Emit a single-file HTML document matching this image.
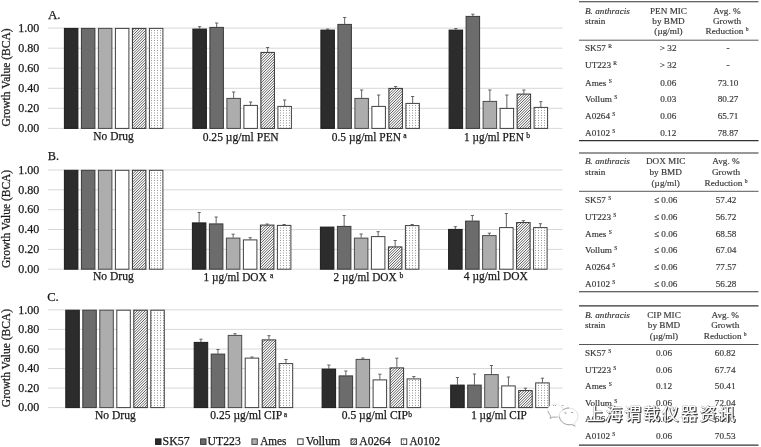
<!DOCTYPE html>
<html><head><meta charset="utf-8"><title>Figure</title>
<style>
html,body{margin:0;padding:0;background:#fff;}
body{width:761px;height:447px;overflow:hidden;}
svg{display:block;will-change:transform;}
svg text{font-family:"Liberation Serif",serif;}
.c text{stroke:#1a1a1a;stroke-width:0.25px;}
.t text{stroke:#3a3a3a;stroke-width:0.18px;}
</style></head><body>
<svg width="761" height="447" viewBox="0 0 761 447">
<defs>
<pattern id="hatch" width="8" height="8" patternUnits="userSpaceOnUse">
<rect width="8" height="8" fill="#fff"/><path d="M-9.000 9L1.000 -1M-6.333 9L3.667 -1M-3.667 9L6.333 -1M-1.000 9L9.000 -1M1.667 9L11.667 -1M4.333 9L14.333 -1M7.000 9L17.000 -1" stroke="#333" stroke-width="0.8"/></pattern>
<pattern id="dots" width="3" height="5" patternUnits="userSpaceOnUse">
<rect width="3" height="5" fill="#fff"/><rect x="1" y="0" width="1" height="1" fill="#9a9a9a"/><rect x="1" y="2.500" width="1" height="1" fill="#9a9a9a"/></pattern>
</defs>
<rect width="761" height="447" fill="#fff"/>
<g class="c">
<line x1="48" x2="562.5" y1="128.4" y2="128.4" stroke="#d8d8d8" stroke-width="1"/>
<text x="39.2" y="132.20" font-size="12" text-anchor="end" fill="#1a1a1a">0.00</text>
<line x1="48" x2="562.5" y1="108.3" y2="108.3" stroke="#d8d8d8" stroke-width="1"/>
<text x="39.2" y="112.14" font-size="12" text-anchor="end" fill="#1a1a1a">0.20</text>
<line x1="48" x2="562.5" y1="88.3" y2="88.3" stroke="#d8d8d8" stroke-width="1"/>
<text x="39.2" y="92.08" font-size="12" text-anchor="end" fill="#1a1a1a">0.40</text>
<line x1="48" x2="562.5" y1="68.2" y2="68.2" stroke="#d8d8d8" stroke-width="1"/>
<text x="39.2" y="72.02" font-size="12" text-anchor="end" fill="#1a1a1a">0.60</text>
<line x1="48" x2="562.5" y1="48.2" y2="48.2" stroke="#d8d8d8" stroke-width="1"/>
<text x="39.2" y="51.96" font-size="12" text-anchor="end" fill="#1a1a1a">0.80</text>
<line x1="48" x2="562.5" y1="28.1" y2="28.1" stroke="#d8d8d8" stroke-width="1"/>
<text x="39.2" y="31.90" font-size="12" text-anchor="end" fill="#1a1a1a">1.00</text>
<text x="47.9" y="19" font-size="13.5" textLength="12.7" lengthAdjust="spacingAndGlyphs" fill="#1a1a1a">A.</text>
<text transform="translate(10.4,77.5) rotate(-90)" font-size="11.5" text-anchor="middle" fill="#1a1a1a">Growth Value (BCA)</text>
<rect x="64.40" y="28.40" width="13.50" height="100.00" fill="#2c2c2c" stroke="#1c1c1c" stroke-width="1"/>
<rect x="81.40" y="28.40" width="13.50" height="100.00" fill="#6c6c6c" stroke="#3a3a3a" stroke-width="1"/>
<rect x="98.40" y="28.40" width="13.50" height="100.00" fill="#adadad" stroke="#4a4a4a" stroke-width="1"/>
<rect x="115.40" y="28.40" width="13.50" height="100.00" fill="#ffffff" stroke="#404040" stroke-width="1"/>
<rect x="132.40" y="28.40" width="13.50" height="100.00" fill="url(#hatch)" stroke="#333" stroke-width="1"/>
<rect x="149.40" y="28.40" width="13.50" height="100.00" fill="url(#dots)" stroke="#404040" stroke-width="1"/>
<path d="M199.65 28.70V26.70M198.05 26.70H201.25" stroke="#555" stroke-width="0.9" fill="none"/>
<rect x="192.90" y="29.10" width="13.50" height="99.30" fill="#2c2c2c" stroke="#1c1c1c" stroke-width="1"/>
<path d="M216.65 27.00V23.00M215.05 23.00H218.25" stroke="#555" stroke-width="0.9" fill="none"/>
<rect x="209.90" y="27.40" width="13.50" height="101.00" fill="#6c6c6c" stroke="#3a3a3a" stroke-width="1"/>
<path d="M233.65 98.00V92.00M232.05 92.00H235.25" stroke="#555" stroke-width="0.9" fill="none"/>
<rect x="226.90" y="98.40" width="13.50" height="30.00" fill="#adadad" stroke="#4a4a4a" stroke-width="1"/>
<path d="M250.65 105.00V102.00M249.05 102.00H252.25" stroke="#555" stroke-width="0.9" fill="none"/>
<rect x="243.90" y="105.40" width="13.50" height="23.00" fill="#ffffff" stroke="#404040" stroke-width="1"/>
<path d="M267.65 52.00V47.50M266.05 47.50H269.25" stroke="#555" stroke-width="0.9" fill="none"/>
<rect x="260.90" y="52.40" width="13.50" height="76.00" fill="url(#hatch)" stroke="#333" stroke-width="1"/>
<path d="M284.65 106.00V100.00M283.05 100.00H286.25" stroke="#555" stroke-width="0.9" fill="none"/>
<rect x="277.90" y="106.40" width="13.50" height="22.00" fill="url(#dots)" stroke="#404040" stroke-width="1"/>
<path d="M327.65 29.70V29.00M326.05 29.00H329.25" stroke="#555" stroke-width="0.9" fill="none"/>
<rect x="320.90" y="30.10" width="13.50" height="98.30" fill="#2c2c2c" stroke="#1c1c1c" stroke-width="1"/>
<path d="M344.65 24.00V17.50M343.05 17.50H346.25" stroke="#555" stroke-width="0.9" fill="none"/>
<rect x="337.90" y="24.40" width="13.50" height="104.00" fill="#6c6c6c" stroke="#3a3a3a" stroke-width="1"/>
<path d="M361.65 98.00V90.00M360.05 90.00H363.25" stroke="#555" stroke-width="0.9" fill="none"/>
<rect x="354.90" y="98.40" width="13.50" height="30.00" fill="#adadad" stroke="#4a4a4a" stroke-width="1"/>
<path d="M378.65 106.00V95.00M377.05 95.00H380.25" stroke="#555" stroke-width="0.9" fill="none"/>
<rect x="371.90" y="106.40" width="13.50" height="22.00" fill="#ffffff" stroke="#404040" stroke-width="1"/>
<path d="M395.65 88.00V86.50M394.05 86.50H397.25" stroke="#555" stroke-width="0.9" fill="none"/>
<rect x="388.90" y="88.40" width="13.50" height="40.00" fill="url(#hatch)" stroke="#333" stroke-width="1"/>
<path d="M412.65 103.00V96.50M411.05 96.50H414.25" stroke="#555" stroke-width="0.9" fill="none"/>
<rect x="405.90" y="103.40" width="13.50" height="25.00" fill="url(#dots)" stroke="#404040" stroke-width="1"/>
<path d="M455.85 29.70V28.50M454.25 28.50H457.45" stroke="#555" stroke-width="0.9" fill="none"/>
<rect x="449.10" y="30.10" width="13.50" height="98.30" fill="#2c2c2c" stroke="#1c1c1c" stroke-width="1"/>
<path d="M472.85 16.00V14.20M471.25 14.20H474.45" stroke="#555" stroke-width="0.9" fill="none"/>
<rect x="466.10" y="16.40" width="13.50" height="112.00" fill="#6c6c6c" stroke="#3a3a3a" stroke-width="1"/>
<path d="M489.85 101.00V90.00M488.25 90.00H491.45" stroke="#555" stroke-width="0.9" fill="none"/>
<rect x="483.10" y="101.40" width="13.50" height="27.00" fill="#adadad" stroke="#4a4a4a" stroke-width="1"/>
<path d="M506.85 108.00V95.00M505.25 95.00H508.45" stroke="#555" stroke-width="0.9" fill="none"/>
<rect x="500.10" y="108.40" width="13.50" height="20.00" fill="#ffffff" stroke="#404040" stroke-width="1"/>
<path d="M523.85 93.70V90.00M522.25 90.00H525.45" stroke="#555" stroke-width="0.9" fill="none"/>
<rect x="517.10" y="94.10" width="13.50" height="34.30" fill="url(#hatch)" stroke="#333" stroke-width="1"/>
<path d="M540.85 107.00V101.70M539.25 101.70H542.45" stroke="#555" stroke-width="0.9" fill="none"/>
<rect x="534.10" y="107.40" width="13.50" height="21.00" fill="url(#dots)" stroke="#404040" stroke-width="1"/>
<text x="93.35" y="139.7" font-size="11.55" textLength="40.35" lengthAdjust="spacingAndGlyphs" fill="#1a1a1a">No Drug</text>
<text x="202.65" y="140.8" font-size="11.55" textLength="75.95" lengthAdjust="spacingAndGlyphs" fill="#1a1a1a">0.25 µg/ml PEN</text>
<text x="331.75" y="140.7" font-size="11.55" textLength="69.15" lengthAdjust="spacingAndGlyphs" fill="#1a1a1a">0.5 µg/ml PEN</text>
<text x="403.30" y="137.8" font-size="7.6" fill="#1a1a1a">a</text>
<text x="464.10" y="140.7" font-size="11.55" textLength="59.70" lengthAdjust="spacingAndGlyphs" fill="#1a1a1a">1 µg/ml PEN</text>
<text x="526.20" y="137.8" font-size="7.6" fill="#1a1a1a">b</text>
<line x1="48" x2="562.5" y1="269.2" y2="269.2" stroke="#d8d8d8" stroke-width="1"/>
<text x="39.2" y="273.00" font-size="12" text-anchor="end" fill="#1a1a1a">0.00</text>
<line x1="48" x2="562.5" y1="249.4" y2="249.4" stroke="#d8d8d8" stroke-width="1"/>
<text x="39.2" y="253.16" font-size="12" text-anchor="end" fill="#1a1a1a">0.20</text>
<line x1="48" x2="562.5" y1="229.5" y2="229.5" stroke="#d8d8d8" stroke-width="1"/>
<text x="39.2" y="233.32" font-size="12" text-anchor="end" fill="#1a1a1a">0.40</text>
<line x1="48" x2="562.5" y1="209.7" y2="209.7" stroke="#d8d8d8" stroke-width="1"/>
<text x="39.2" y="213.48" font-size="12" text-anchor="end" fill="#1a1a1a">0.60</text>
<line x1="48" x2="562.5" y1="189.8" y2="189.8" stroke="#d8d8d8" stroke-width="1"/>
<text x="39.2" y="193.64" font-size="12" text-anchor="end" fill="#1a1a1a">0.80</text>
<line x1="48" x2="562.5" y1="170.0" y2="170.0" stroke="#d8d8d8" stroke-width="1"/>
<text x="39.2" y="173.80" font-size="12" text-anchor="end" fill="#1a1a1a">1.00</text>
<text x="47.8" y="160" font-size="13.5" textLength="11.3" lengthAdjust="spacingAndGlyphs" fill="#1a1a1a">B.</text>
<text transform="translate(10.4,218.9) rotate(-90)" font-size="11.5" text-anchor="middle" fill="#1a1a1a">Growth Value (BCA)</text>
<rect x="64.40" y="170.30" width="13.50" height="98.90" fill="#2c2c2c" stroke="#1c1c1c" stroke-width="1"/>
<rect x="81.40" y="170.30" width="13.50" height="98.90" fill="#6c6c6c" stroke="#3a3a3a" stroke-width="1"/>
<rect x="98.40" y="170.30" width="13.50" height="98.90" fill="#adadad" stroke="#4a4a4a" stroke-width="1"/>
<rect x="115.40" y="170.30" width="13.50" height="98.90" fill="#ffffff" stroke="#404040" stroke-width="1"/>
<rect x="132.40" y="170.30" width="13.50" height="98.90" fill="url(#hatch)" stroke="#333" stroke-width="1"/>
<rect x="149.40" y="170.30" width="13.50" height="98.90" fill="url(#dots)" stroke="#404040" stroke-width="1"/>
<path d="M199.15 222.50V212.50M197.55 212.50H200.75" stroke="#555" stroke-width="0.9" fill="none"/>
<rect x="192.40" y="222.90" width="13.50" height="46.30" fill="#2c2c2c" stroke="#1c1c1c" stroke-width="1"/>
<path d="M216.15 223.50V217.00M214.55 217.00H217.75" stroke="#555" stroke-width="0.9" fill="none"/>
<rect x="209.40" y="223.90" width="13.50" height="45.30" fill="#6c6c6c" stroke="#3a3a3a" stroke-width="1"/>
<path d="M233.15 237.70V234.20M231.55 234.20H234.75" stroke="#555" stroke-width="0.9" fill="none"/>
<rect x="226.40" y="238.10" width="13.50" height="31.10" fill="#adadad" stroke="#4a4a4a" stroke-width="1"/>
<path d="M250.15 239.50V237.70M248.55 237.70H251.75" stroke="#555" stroke-width="0.9" fill="none"/>
<rect x="243.40" y="239.90" width="13.50" height="29.30" fill="#ffffff" stroke="#404040" stroke-width="1"/>
<path d="M267.15 224.70V224.00M265.55 224.00H268.75" stroke="#555" stroke-width="0.9" fill="none"/>
<rect x="260.40" y="225.10" width="13.50" height="44.10" fill="url(#hatch)" stroke="#333" stroke-width="1"/>
<path d="M284.15 225.00V224.50M282.55 224.50H285.75" stroke="#555" stroke-width="0.9" fill="none"/>
<rect x="277.40" y="225.40" width="13.50" height="43.80" fill="url(#dots)" stroke="#404040" stroke-width="1"/>
<rect x="320.40" y="227.10" width="13.50" height="42.10" fill="#2c2c2c" stroke="#1c1c1c" stroke-width="1"/>
<path d="M344.15 226.00V215.50M342.55 215.50H345.75" stroke="#555" stroke-width="0.9" fill="none"/>
<rect x="337.40" y="226.40" width="13.50" height="42.80" fill="#6c6c6c" stroke="#3a3a3a" stroke-width="1"/>
<path d="M361.15 237.70V234.00M359.55 234.00H362.75" stroke="#555" stroke-width="0.9" fill="none"/>
<rect x="354.40" y="238.10" width="13.50" height="31.10" fill="#adadad" stroke="#4a4a4a" stroke-width="1"/>
<path d="M378.15 236.20V231.70M376.55 231.70H379.75" stroke="#555" stroke-width="0.9" fill="none"/>
<rect x="371.40" y="236.60" width="13.50" height="32.60" fill="#ffffff" stroke="#404040" stroke-width="1"/>
<path d="M395.15 246.50V240.50M393.55 240.50H396.75" stroke="#555" stroke-width="0.9" fill="none"/>
<rect x="388.40" y="246.90" width="13.50" height="22.30" fill="url(#hatch)" stroke="#333" stroke-width="1"/>
<path d="M412.15 225.20V224.50M410.55 224.50H413.75" stroke="#555" stroke-width="0.9" fill="none"/>
<rect x="405.40" y="225.60" width="13.50" height="43.60" fill="url(#dots)" stroke="#404040" stroke-width="1"/>
<path d="M455.35 229.00V226.70M453.75 226.70H456.95" stroke="#555" stroke-width="0.9" fill="none"/>
<rect x="448.60" y="229.40" width="13.50" height="39.80" fill="#2c2c2c" stroke="#1c1c1c" stroke-width="1"/>
<path d="M472.35 220.70V215.50M470.75 215.50H473.95" stroke="#555" stroke-width="0.9" fill="none"/>
<rect x="465.60" y="221.10" width="13.50" height="48.10" fill="#6c6c6c" stroke="#3a3a3a" stroke-width="1"/>
<path d="M489.35 235.20V233.20M487.75 233.20H490.95" stroke="#555" stroke-width="0.9" fill="none"/>
<rect x="482.60" y="235.60" width="13.50" height="33.60" fill="#adadad" stroke="#4a4a4a" stroke-width="1"/>
<path d="M506.35 227.20V213.50M504.75 213.50H507.95" stroke="#555" stroke-width="0.9" fill="none"/>
<rect x="499.60" y="227.60" width="13.50" height="41.60" fill="#ffffff" stroke="#404040" stroke-width="1"/>
<path d="M523.35 222.20V220.70M521.75 220.70H524.95" stroke="#555" stroke-width="0.9" fill="none"/>
<rect x="516.60" y="222.60" width="13.50" height="46.60" fill="url(#hatch)" stroke="#333" stroke-width="1"/>
<path d="M540.35 227.20V223.70M538.75 223.70H541.95" stroke="#555" stroke-width="0.9" fill="none"/>
<rect x="533.60" y="227.60" width="13.50" height="41.60" fill="url(#dots)" stroke="#404040" stroke-width="1"/>
<text x="92.95" y="280.3" font-size="11.55" textLength="40.75" lengthAdjust="spacingAndGlyphs" fill="#1a1a1a">No Drug</text>
<text x="203.60" y="281.0" font-size="11.55" textLength="63.10" lengthAdjust="spacingAndGlyphs" fill="#1a1a1a">1 µg/ml DOX</text>
<text x="270.10" y="278.2" font-size="7.6" fill="#1a1a1a">a</text>
<text x="333.60" y="281.0" font-size="11.55" textLength="63.10" lengthAdjust="spacingAndGlyphs" fill="#1a1a1a">2 µg/ml DOX</text>
<text x="399.40" y="278.40000000000003" font-size="7.6" fill="#1a1a1a">b</text>
<text x="463.85" y="280.4" font-size="11.55" textLength="64.05" lengthAdjust="spacingAndGlyphs" fill="#1a1a1a">4 µg/ml DOX</text>
<line x1="48" x2="562.5" y1="407.6" y2="407.6" stroke="#d8d8d8" stroke-width="1"/>
<text x="39.2" y="411.40" font-size="12" text-anchor="end" fill="#1a1a1a">0.00</text>
<line x1="48" x2="562.5" y1="388.1" y2="388.1" stroke="#d8d8d8" stroke-width="1"/>
<text x="39.2" y="391.86" font-size="12" text-anchor="end" fill="#1a1a1a">0.20</text>
<line x1="48" x2="562.5" y1="368.5" y2="368.5" stroke="#d8d8d8" stroke-width="1"/>
<text x="39.2" y="372.32" font-size="12" text-anchor="end" fill="#1a1a1a">0.40</text>
<line x1="48" x2="562.5" y1="349.0" y2="349.0" stroke="#d8d8d8" stroke-width="1"/>
<text x="39.2" y="352.78" font-size="12" text-anchor="end" fill="#1a1a1a">0.60</text>
<line x1="48" x2="562.5" y1="329.4" y2="329.4" stroke="#d8d8d8" stroke-width="1"/>
<text x="39.2" y="333.24" font-size="12" text-anchor="end" fill="#1a1a1a">0.80</text>
<line x1="48" x2="562.5" y1="309.9" y2="309.9" stroke="#d8d8d8" stroke-width="1"/>
<text x="39.2" y="313.70" font-size="12" text-anchor="end" fill="#1a1a1a">1.00</text>
<text x="47.2" y="301" font-size="13.5" textLength="11.6" lengthAdjust="spacingAndGlyphs" fill="#1a1a1a">C.</text>
<text transform="translate(10.4,358.1) rotate(-90)" font-size="11.5" text-anchor="middle" fill="#1a1a1a">Growth Value (BCA)</text>
<rect x="65.80" y="310.20" width="13.50" height="97.40" fill="#2c2c2c" stroke="#1c1c1c" stroke-width="1"/>
<rect x="82.80" y="310.20" width="13.50" height="97.40" fill="#6c6c6c" stroke="#3a3a3a" stroke-width="1"/>
<rect x="99.80" y="310.20" width="13.50" height="97.40" fill="#adadad" stroke="#4a4a4a" stroke-width="1"/>
<rect x="116.80" y="310.20" width="13.50" height="97.40" fill="#ffffff" stroke="#404040" stroke-width="1"/>
<rect x="133.80" y="310.20" width="13.50" height="97.40" fill="url(#hatch)" stroke="#333" stroke-width="1"/>
<rect x="150.80" y="310.20" width="13.50" height="97.40" fill="url(#dots)" stroke="#404040" stroke-width="1"/>
<path d="M200.95 342.00V339.20M199.35 339.20H202.55" stroke="#555" stroke-width="0.9" fill="none"/>
<rect x="194.20" y="342.40" width="13.50" height="65.20" fill="#2c2c2c" stroke="#1c1c1c" stroke-width="1"/>
<path d="M217.95 353.70V349.50M216.35 349.50H219.55" stroke="#555" stroke-width="0.9" fill="none"/>
<rect x="211.20" y="354.10" width="13.50" height="53.50" fill="#6c6c6c" stroke="#3a3a3a" stroke-width="1"/>
<path d="M234.95 335.00V333.70M233.35 333.70H236.55" stroke="#555" stroke-width="0.9" fill="none"/>
<rect x="228.20" y="335.40" width="13.50" height="72.20" fill="#adadad" stroke="#4a4a4a" stroke-width="1"/>
<path d="M251.95 357.70V357.00M250.35 357.00H253.55" stroke="#555" stroke-width="0.9" fill="none"/>
<rect x="245.20" y="358.10" width="13.50" height="49.50" fill="#ffffff" stroke="#404040" stroke-width="1"/>
<path d="M268.95 339.50V335.70M267.35 335.70H270.55" stroke="#555" stroke-width="0.9" fill="none"/>
<rect x="262.20" y="339.90" width="13.50" height="67.70" fill="url(#hatch)" stroke="#333" stroke-width="1"/>
<path d="M285.95 363.20V359.50M284.35 359.50H287.55" stroke="#555" stroke-width="0.9" fill="none"/>
<rect x="279.20" y="363.60" width="13.50" height="44.00" fill="url(#dots)" stroke="#404040" stroke-width="1"/>
<path d="M328.85 368.70V365.00M327.25 365.00H330.45" stroke="#555" stroke-width="0.9" fill="none"/>
<rect x="322.10" y="369.10" width="13.50" height="38.50" fill="#2c2c2c" stroke="#1c1c1c" stroke-width="1"/>
<path d="M345.85 375.50V371.00M344.25 371.00H347.45" stroke="#555" stroke-width="0.9" fill="none"/>
<rect x="339.10" y="375.90" width="13.50" height="31.70" fill="#6c6c6c" stroke="#3a3a3a" stroke-width="1"/>
<path d="M362.85 359.00V358.00M361.25 358.00H364.45" stroke="#555" stroke-width="0.9" fill="none"/>
<rect x="356.10" y="359.40" width="13.50" height="48.20" fill="#adadad" stroke="#4a4a4a" stroke-width="1"/>
<path d="M379.85 379.50V374.20M378.25 374.20H381.45" stroke="#555" stroke-width="0.9" fill="none"/>
<rect x="373.10" y="379.90" width="13.50" height="27.70" fill="#ffffff" stroke="#404040" stroke-width="1"/>
<path d="M396.85 367.50V358.20M395.25 358.20H398.45" stroke="#555" stroke-width="0.9" fill="none"/>
<rect x="390.10" y="367.90" width="13.50" height="39.70" fill="url(#hatch)" stroke="#333" stroke-width="1"/>
<path d="M413.85 378.50V376.50M412.25 376.50H415.45" stroke="#555" stroke-width="0.9" fill="none"/>
<rect x="407.10" y="378.90" width="13.50" height="28.70" fill="url(#dots)" stroke="#404040" stroke-width="1"/>
<path d="M457.45 384.70V377.50M455.85 377.50H459.05" stroke="#555" stroke-width="0.9" fill="none"/>
<rect x="450.70" y="385.10" width="13.50" height="22.50" fill="#2c2c2c" stroke="#1c1c1c" stroke-width="1"/>
<path d="M474.45 384.70V374.00M472.85 374.00H476.05" stroke="#555" stroke-width="0.9" fill="none"/>
<rect x="467.70" y="385.10" width="13.50" height="22.50" fill="#6c6c6c" stroke="#3a3a3a" stroke-width="1"/>
<path d="M491.45 374.20V365.50M489.85 365.50H493.05" stroke="#555" stroke-width="0.9" fill="none"/>
<rect x="484.70" y="374.60" width="13.50" height="33.00" fill="#adadad" stroke="#4a4a4a" stroke-width="1"/>
<path d="M508.45 385.50V377.00M506.85 377.00H510.05" stroke="#555" stroke-width="0.9" fill="none"/>
<rect x="501.70" y="385.90" width="13.50" height="21.70" fill="#ffffff" stroke="#404040" stroke-width="1"/>
<path d="M525.45 390.20V388.20M523.85 388.20H527.05" stroke="#555" stroke-width="0.9" fill="none"/>
<rect x="518.70" y="390.60" width="13.50" height="17.00" fill="url(#hatch)" stroke="#333" stroke-width="1"/>
<path d="M542.45 382.50V378.20M540.85 378.20H544.05" stroke="#555" stroke-width="0.9" fill="none"/>
<rect x="535.70" y="382.90" width="13.50" height="24.70" fill="url(#dots)" stroke="#404040" stroke-width="1"/>
<text x="94.95" y="418.9" font-size="11.55" textLength="40.75" lengthAdjust="spacingAndGlyphs" fill="#1a1a1a">No Drug</text>
<text x="210.35" y="419.4" font-size="11.55" textLength="71.75" lengthAdjust="spacingAndGlyphs" fill="#1a1a1a">0.25 µg/ml CIP</text>
<text x="283.70" y="417.0" font-size="7.6" fill="#1a1a1a">a</text>
<text x="341.75" y="419.4" font-size="11.55" textLength="66.15" lengthAdjust="spacingAndGlyphs" fill="#1a1a1a">0.5 µg/ml CIP</text>
<text x="408.30" y="416.8" font-size="7.6" fill="#1a1a1a">b</text>
<text x="471.20" y="418.8" font-size="11.55" textLength="55.50" lengthAdjust="spacingAndGlyphs" fill="#1a1a1a">1 µg/ml CIP</text>
<rect x="155.6" y="438.9" width="5.4" height="5.5" fill="#2c2c2c" stroke="#1c1c1c" stroke-width="1"/>
<text x="162.55" y="445" font-size="11.8" textLength="27.15" lengthAdjust="spacingAndGlyphs" fill="#1a1a1a">SK57</text>
<rect x="200.6" y="438.9" width="5.4" height="5.5" fill="#6c6c6c" stroke="#3a3a3a" stroke-width="1"/>
<text x="207.60" y="445" font-size="11.8" textLength="33.20" lengthAdjust="spacingAndGlyphs" fill="#1a1a1a">UT223</text>
<rect x="251.9" y="438.9" width="5.4" height="5.5" fill="#adadad" stroke="#4a4a4a" stroke-width="1"/>
<text x="260.15" y="445" font-size="11.8" textLength="26.25" lengthAdjust="spacingAndGlyphs" fill="#1a1a1a">Ames</text>
<rect x="297.7" y="438.9" width="5.4" height="5.5" fill="#ffffff" stroke="#404040" stroke-width="1"/>
<text x="305.65" y="445" font-size="11.8" textLength="34.65" lengthAdjust="spacingAndGlyphs" fill="#1a1a1a">Vollum</text>
<rect x="351.0" y="438.9" width="5.4" height="5.5" fill="url(#hatch)" stroke="#333" stroke-width="1"/>
<text x="359.35" y="445" font-size="11.8" textLength="31.55" lengthAdjust="spacingAndGlyphs" fill="#1a1a1a">A0264</text>
<rect x="401.3" y="438.9" width="5.4" height="5.5" fill="url(#dots)" stroke="#404040" stroke-width="1"/>
<text x="409.55" y="445" font-size="11.8" textLength="30.45" lengthAdjust="spacingAndGlyphs" fill="#1a1a1a">A0102</text>
</g>
<g class="t">
<line x1="579" x2="758.5" y1="1.7" y2="1.7" stroke="#333" stroke-width="1.1"/>
<line x1="579" x2="758.5" y1="40.2" y2="40.2" stroke="#444" stroke-width="0.9"/>
<line x1="579" x2="758.5" y1="140.6" y2="140.6" stroke="#333" stroke-width="1.1"/>
<text x="585" y="13.5" font-size="9.2" font-style="italic" fill="#3a3a3a">B. anthracis</text>
<text x="585" y="23.7" font-size="9.2" fill="#3a3a3a">strain</text>
<text x="668.5" y="13.5" font-size="9.2" text-anchor="middle" fill="#3a3a3a">PEN MIC</text>
<text x="668.5" y="23.7" font-size="9.2" text-anchor="middle" fill="#3a3a3a">by BMD</text>
<text x="668.5" y="34.4" font-size="9.2" text-anchor="middle" fill="#3a3a3a">(µg/ml)</text>
<text x="727" y="13.5" font-size="9.2" text-anchor="middle" fill="#3a3a3a">Avg. %</text>
<text x="727" y="23.7" font-size="9.2" text-anchor="middle" fill="#3a3a3a">Growth</text>
<text x="727" y="34.4" font-size="9.2" text-anchor="middle" fill="#3a3a3a">Reduction <tspan font-size="5.5" dy="-3">b</tspan></text>
<text x="585" y="51.4" font-size="9.2" fill="#3a3a3a">SK57 <tspan font-size="5.5" dy="-3">R</tspan></text>
<text x="668.2" y="51.4" font-size="9.2" text-anchor="middle" fill="#3a3a3a">&gt; 32</text>
<text x="728" y="51.4" font-size="9.2" text-anchor="middle" fill="#3a3a3a">-</text>
<text x="585" y="68.4" font-size="9.2" fill="#3a3a3a">UT223 <tspan font-size="5.5" dy="-3">R</tspan></text>
<text x="668.2" y="68.4" font-size="9.2" text-anchor="middle" fill="#3a3a3a">&gt; 32</text>
<text x="728" y="68.4" font-size="9.2" text-anchor="middle" fill="#3a3a3a">-</text>
<text x="585" y="85.7" font-size="9.2" fill="#3a3a3a">Ames <tspan font-size="5.5" dy="-3">S</tspan></text>
<text x="668.2" y="85.7" font-size="9.2" text-anchor="middle" fill="#3a3a3a">0.06</text>
<text x="728" y="85.7" font-size="9.2" text-anchor="middle" fill="#3a3a3a">73.10</text>
<text x="585" y="102.2" font-size="9.2" fill="#3a3a3a">Vollum <tspan font-size="5.5" dy="-3">S</tspan></text>
<text x="668.2" y="102.2" font-size="9.2" text-anchor="middle" fill="#3a3a3a">0.03</text>
<text x="728" y="102.2" font-size="9.2" text-anchor="middle" fill="#3a3a3a">80.27</text>
<text x="585" y="119.0" font-size="9.2" fill="#3a3a3a">A0264 <tspan font-size="5.5" dy="-3">S</tspan></text>
<text x="668.2" y="119.0" font-size="9.2" text-anchor="middle" fill="#3a3a3a">0.06</text>
<text x="728" y="119.0" font-size="9.2" text-anchor="middle" fill="#3a3a3a">65.71</text>
<text x="585" y="136.0" font-size="9.2" fill="#3a3a3a">A0102 <tspan font-size="5.5" dy="-3">S</tspan></text>
<text x="668.2" y="136.0" font-size="9.2" text-anchor="middle" fill="#3a3a3a">0.12</text>
<text x="728" y="136.0" font-size="9.2" text-anchor="middle" fill="#3a3a3a">78.87</text>
<line x1="579" x2="758.5" y1="153" y2="153" stroke="#333" stroke-width="1.1"/>
<line x1="579" x2="758.5" y1="191.3" y2="191.3" stroke="#444" stroke-width="0.9"/>
<line x1="579" x2="758.5" y1="291.7" y2="291.7" stroke="#333" stroke-width="1.1"/>
<text x="585" y="164.4" font-size="9.2" font-style="italic" fill="#3a3a3a">B. anthracis</text>
<text x="585" y="175.2" font-size="9.2" fill="#3a3a3a">strain</text>
<text x="665.7" y="164.4" font-size="9.2" text-anchor="middle" fill="#3a3a3a">DOX MIC</text>
<text x="665.7" y="175.2" font-size="9.2" text-anchor="middle" fill="#3a3a3a">by BMD</text>
<text x="665.7" y="186.1" font-size="9.2" text-anchor="middle" fill="#3a3a3a">(µg/ml)</text>
<text x="726" y="164.4" font-size="9.2" text-anchor="middle" fill="#3a3a3a">Avg. %</text>
<text x="726" y="175.2" font-size="9.2" text-anchor="middle" fill="#3a3a3a">Growth</text>
<text x="726" y="186.1" font-size="9.2" text-anchor="middle" fill="#3a3a3a">Reduction <tspan font-size="5.5" dy="-3">b</tspan></text>
<text x="585" y="203.2" font-size="9.2" fill="#3a3a3a">SK57 <tspan font-size="5.5" dy="-3">S</tspan></text>
<text x="665.7" y="203.2" font-size="9.2" text-anchor="middle" fill="#3a3a3a">≤ 0.06</text>
<text x="726.1" y="203.2" font-size="9.2" text-anchor="middle" fill="#3a3a3a">57.42</text>
<text x="585" y="219.5" font-size="9.2" fill="#3a3a3a">UT223 <tspan font-size="5.5" dy="-3">S</tspan></text>
<text x="665.7" y="219.5" font-size="9.2" text-anchor="middle" fill="#3a3a3a">≤ 0.06</text>
<text x="726.1" y="219.5" font-size="9.2" text-anchor="middle" fill="#3a3a3a">56.72</text>
<text x="585" y="236.6" font-size="9.2" fill="#3a3a3a">Ames <tspan font-size="5.5" dy="-3">S</tspan></text>
<text x="665.7" y="236.6" font-size="9.2" text-anchor="middle" fill="#3a3a3a">≤ 0.06</text>
<text x="726.1" y="236.6" font-size="9.2" text-anchor="middle" fill="#3a3a3a">68.58</text>
<text x="585" y="253.2" font-size="9.2" fill="#3a3a3a">Vollum <tspan font-size="5.5" dy="-3">S</tspan></text>
<text x="665.7" y="253.2" font-size="9.2" text-anchor="middle" fill="#3a3a3a">≤ 0.06</text>
<text x="726.1" y="253.2" font-size="9.2" text-anchor="middle" fill="#3a3a3a">67.04</text>
<text x="585" y="269.8" font-size="9.2" fill="#3a3a3a">A0264 <tspan font-size="5.5" dy="-3">S</tspan></text>
<text x="665.7" y="269.8" font-size="9.2" text-anchor="middle" fill="#3a3a3a">≤ 0.06</text>
<text x="726.1" y="269.8" font-size="9.2" text-anchor="middle" fill="#3a3a3a">77.57</text>
<text x="585" y="286.7" font-size="9.2" fill="#3a3a3a">A0102 <tspan font-size="5.5" dy="-3">S</tspan></text>
<text x="665.7" y="286.7" font-size="9.2" text-anchor="middle" fill="#3a3a3a">≤ 0.06</text>
<text x="726.1" y="286.7" font-size="9.2" text-anchor="middle" fill="#3a3a3a">56.28</text>
<line x1="579" x2="758.5" y1="305.9" y2="305.9" stroke="#333" stroke-width="1.1"/>
<line x1="579" x2="758.5" y1="344.5" y2="344.5" stroke="#444" stroke-width="0.9"/>
<line x1="579" x2="758.5" y1="445.1" y2="445.1" stroke="#333" stroke-width="1.1"/>
<text x="585" y="317.5" font-size="9.2" font-style="italic" fill="#3a3a3a">B. anthracis</text>
<text x="585" y="327.9" font-size="9.2" fill="#3a3a3a">strain</text>
<text x="664" y="317.5" font-size="9.2" text-anchor="middle" fill="#3a3a3a">CIP MIC</text>
<text x="664" y="327.9" font-size="9.2" text-anchor="middle" fill="#3a3a3a">by BMD</text>
<text x="664" y="338.9" font-size="9.2" text-anchor="middle" fill="#3a3a3a">(µg/ml)</text>
<text x="725.2" y="317.5" font-size="9.2" text-anchor="middle" fill="#3a3a3a">Avg. %</text>
<text x="725.2" y="327.9" font-size="9.2" text-anchor="middle" fill="#3a3a3a">Growth</text>
<text x="725.2" y="338.9" font-size="9.2" text-anchor="middle" fill="#3a3a3a">Reduction <tspan font-size="5.5" dy="-3">b</tspan></text>
<text x="585" y="355.6" font-size="9.2" fill="#3a3a3a">SK57 <tspan font-size="5.5" dy="-3">S</tspan></text>
<text x="664" y="355.6" font-size="9.2" text-anchor="middle" fill="#3a3a3a">0.06</text>
<text x="725.2" y="355.6" font-size="9.2" text-anchor="middle" fill="#3a3a3a">60.82</text>
<text x="585" y="372.5" font-size="9.2" fill="#3a3a3a">UT223 <tspan font-size="5.5" dy="-3">S</tspan></text>
<text x="664" y="372.5" font-size="9.2" text-anchor="middle" fill="#3a3a3a">0.06</text>
<text x="725.2" y="372.5" font-size="9.2" text-anchor="middle" fill="#3a3a3a">67.74</text>
<text x="585" y="389.3" font-size="9.2" fill="#3a3a3a">Ames <tspan font-size="5.5" dy="-3">S</tspan></text>
<text x="664" y="389.3" font-size="9.2" text-anchor="middle" fill="#3a3a3a">0.12</text>
<text x="725.2" y="389.3" font-size="9.2" text-anchor="middle" fill="#3a3a3a">50.41</text>
<text x="585" y="405.6" font-size="9.2" fill="#3a3a3a">Vollum <tspan font-size="5.5" dy="-3">S</tspan></text>
<text x="664" y="405.6" font-size="9.2" text-anchor="middle" fill="#3a3a3a">0.06</text>
<text x="725.2" y="405.6" font-size="9.2" text-anchor="middle" fill="#3a3a3a">72.04</text>
<text x="585" y="422.3" font-size="9.2" fill="#3a3a3a">A0264 <tspan font-size="5.5" dy="-3">S</tspan></text>
<text x="664" y="422.3" font-size="9.2" text-anchor="middle" fill="#3a3a3a">0.06</text>
<text x="725.2" y="422.3" font-size="9.2" text-anchor="middle" fill="#3a3a3a">68.05</text>
<text x="585" y="439.4" font-size="9.2" fill="#3a3a3a">A0102 <tspan font-size="5.5" dy="-3">S</tspan></text>
<text x="664" y="439.4" font-size="9.2" text-anchor="middle" fill="#3a3a3a">0.06</text>
<text x="725.2" y="439.4" font-size="9.2" text-anchor="middle" fill="#3a3a3a">70.53</text>
</g>
<g id="wm">
<g fill="#fff" stroke-linecap="round"><path d="M555 404.2c-4.3 0-7.6 2.900-7.600 6.600 0 2.100 1.100 3.900 2.900 5.100l-0.800 2.700 3-1.500c0.800 0.200 1.600 0.300 2.500 0.300 4.200 0 7.600-2.900 7.600-6.600s-3.400-6.600-7.600-6.600z" stroke="#e2e2e2" stroke-width="0.6"/><path d="M568.6 408c-5.200 0-9.400 3.700-9.400 8.400s4.200 8.400 9.400 8.400c1.100 0 2.100-0.150 3-0.450l3.500 1.700-0.900-3c2.300-1.500 3.800-3.900 3.800-6.650 0-4.700-4.200-8.400-9.400-8.400z" stroke="#cdcdcd" stroke-width="0.65"/><path d="M548.3 411.500c0.300 2 1.300 3.400 2.600 4.400l-0.700 2.500 2.800-1.400c1.300 0.300 3 0.300 4.300 0M559.500 417c0.500 3.500 4 7 8.500 7.700 1.300 0.200 2.600 0.100 3.700-0.200l3.300 1.600M563 410c1.500-1.300 3.500-2 5.600-2" fill="none" stroke="#8c8c8c" stroke-width="0.7"/></g><g fill="#8a8a8a"><circle cx="553.4" cy="405.500" r="0.550"/><circle cx="555.300" cy="405.500" r="0.550"/><rect x="561.600" y="405.100" width="2" height="0.700"/><circle cx="565.500" cy="412.900" r="0.800" fill="none" stroke="#8a8a8a" stroke-width="0.500"/><rect x="571" y="412" width="2.200" height="0.800"/></g>
<text x="587.6 606.4 625.2 644 662.8 681.6 700.4 719.2" y="420.5" font-size="17" fill="#2a2a2a" stroke="#2a2a2a" stroke-width="0.25" style="font-family:'Liberation Sans','Noto Sans CJK SC',sans-serif;">上海谓载仪器资讯</text>
<text x="586.6 605.4 624.2 643 661.8 680.6 699.4 718.2" y="419.5" font-size="17" fill="#fff" stroke="#8a8a8a" stroke-width="0.5" stroke-linejoin="round" paint-order="stroke" style="font-family:'Liberation Sans','Noto Sans CJK SC',sans-serif;">上海谓载仪器资讯</text>
</g>
</svg>
</body></html>
